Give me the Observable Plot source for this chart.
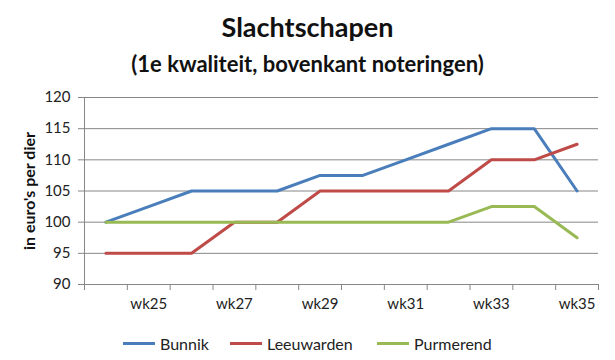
<!DOCTYPE html>
<html>
<head>
<meta charset="utf-8">
<script src="https://cdn.jsdelivr.net/npm/d3@7"></script>
<script src="https://cdn.jsdelivr.net/npm/@observablehq/plot@0.6"></script>
<style>
  body { margin: 0; background: #fff; font-family: Lato, "Open Sans", sans-serif; }
  #wrap { position: relative; width: 615px; height: 360px; overflow: hidden; background: #fff; }
  #title { position: absolute; left: 0; width: 615px; top: 11px; text-align: center; font-size: 27px; font-weight: bold; color: #111; line-height: 1.2; }
  #subtitle { position: absolute; left: 0; width: 615px; top: 51px; text-align: center; font-size: 22px; font-weight: bold; color: #111; line-height: 1.2; }
  #chart { position: absolute; left: 0; top: 85px; }
  .leg { position: absolute; top: 333px; height: 20px; display: flex; align-items: center; font-size: 16px; color: #222; }
  .sw { display: inline-block; width: 32px; height: 3px; margin-right: 5px; }
</style>
</head>
<body>
<div id="wrap">
  <div id="title"></div>
  <div id="subtitle"></div>
  <div id="chart"></div>
</div>
<script>
// ---- data ----
const titleText = "Slachtschapen";
const subtitleText = "(1e kwaliteit, bovenkant noteringen)";
const yLabel = "in euro's per dier";
const weeks = ["wk24","wk25","wk26","wk27","wk28","wk29","wk30","wk31","wk32","wk33","wk34","wk35"];
const xTickLabels = ["wk25","wk27","wk29","wk31","wk33","wk35"];
const yTicks = [90, 95, 100, 105, 110, 115, 120];
const seriesNames = ["Bunnik", "Leeuwarden", "Purmerend"];
const bunnik     = [100, 102.5, 105, 105, 105, 107.5, 107.5, 110, 112.5, 115, 115, 105];
const leeuwarden = [95, 95, 95, 100, 100, 105, 105, 105, 105, 110, 110, 112.5];
const purmerend  = [100, 100, 100, 100, 100, 100, 100, 100, 100, 102.5, 102.5, 97.5];
const colors = ["#4A7EBB", "#BE4B48", "#98B954"];

// ---- build ----
const values = [bunnik, leeuwarden, purmerend];
const rows = [];
seriesNames.forEach((s, k) => weeks.forEach((w, i) => rows.push({series: s, i, week: w, value: values[k][i]})));
const boundaries = d3.range(weeks.length + 1).map(i => i - 0.5);
const labelIdx = xTickLabels.map(l => weeks.indexOf(l));

document.getElementById("title").textContent = titleText;
document.getElementById("subtitle").textContent = subtitleText;

const chart = Plot.plot({
  width: 615, height: 230,
  marginLeft: 84, marginRight: 17, marginTop: 12, marginBottom: 31,
  style: {fontFamily: "Lato, 'Open Sans', sans-serif", fontSize: "15px", color: "#222", background: "transparent", overflow: "visible"},
  x: {type: "linear", domain: [-0.5, weeks.length - 0.5], axis: null},
  y: {domain: [yTicks[0], yTicks[yTicks.length - 1]], axis: null},
  color: {domain: seriesNames, range: colors},
  marks: [
    Plot.ruleY(yTicks, {stroke: "#868686", strokeWidth: 1}),
    Plot.ruleX([-0.5], {y1: yTicks[0], y2: yTicks[yTicks.length - 1], stroke: "#868686"}),
    Plot.axisY({ticks: yTicks, tickSize: 6, tickPadding: 8, stroke: "#868686", fill: "#222", fontSize: 15, label: null}),
    Plot.axisX({ticks: boundaries, tickSize: 6, tickFormat: () => "", stroke: "#868686", label: null}),
    Plot.axisX({ticks: labelIdx, tickSize: 0, tickPadding: 14, tickFormat: i => weeks[i], fill: "#222", fontSize: 15, label: null}),
    Plot.line(rows, {x: "i", y: "value", z: "series", stroke: "series", strokeWidth: 3}),
    Plot.text([yLabel], {frameAnchor: "left", textAnchor: "middle", lineAnchor: "middle", rotate: -90, dx: -55, fontWeight: "bold", fontSize: 16, fill: "#111"})
  ]
});
document.getElementById("chart").appendChild(chart);

// legend
const legX = [123, 230, 377];
const wrap = document.getElementById("wrap");
seriesNames.forEach((s, k) => {
  const d = document.createElement("div");
  d.className = "leg";
  d.style.left = legX[k] + "px";
  const sw = document.createElement("span");
  sw.className = "sw";
  sw.style.background = colors[k];
  d.appendChild(sw);
  d.appendChild(document.createTextNode(s));
  wrap.appendChild(d);
});
</script>
</body>
</html>
